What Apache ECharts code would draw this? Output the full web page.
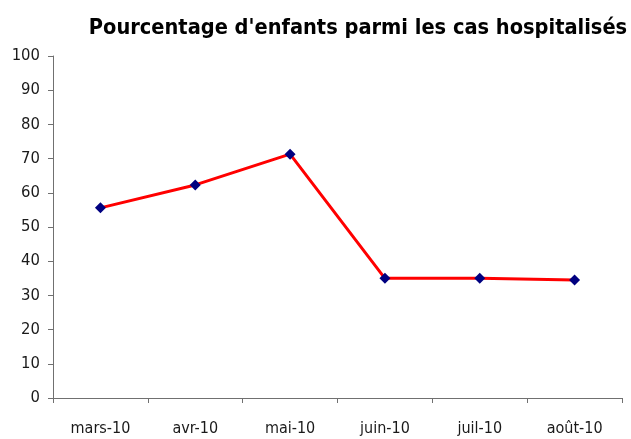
<!DOCTYPE html>
<html>
<head>
<meta charset="utf-8">
<script src="https://cdn.jsdelivr.net/npm/echarts@6/dist/echarts.min.js"></script>
<style>
  html, body { margin: 0; padding: 0; background: #fff; }
  #chart { width: 631px; height: 439px; }
</style>
</head>
<body>
<div id="chart"></div>
<script>
var months = ['mars-10', 'avr-10', 'mai-10', 'juin-10', 'juil-10', 'août-10'];
var pctEnfants = [55.6, 62.3, 71.3, 35.0, 35.0, 34.5];
var yTicks = { min: 0, max: 100, step: 10 };

var fontName = '"DejaVu Sans Condensed", sans-serif';

var chart = echarts.init(document.getElementById('chart'), null, { renderer: 'canvas' });
chart.setOption({
    animation: false,
    backgroundColor: '#fff',
    title: {
        text: "Pourcentage d'enfants parmi les cas hospitalisés",
        left: 353,
        textAlign: 'center',
        top: 12,
        textStyle: { fontFamily: fontName, fontWeight: 'bold', fontSize: 21.6, color: '#000' }
    },
    grid: { left: 53, right: 9, top: 56, bottom: 41, containLabel: false },
    xAxis: {
        type: 'category',
        data: months,
        boundaryGap: true,
        axisLine: { lineStyle: { color: '#707070', width: 1 } },
        axisTick: { show: true, length: 5, lineStyle: { color: '#707070' } },
        axisLabel: { margin: 23, fontFamily: fontName, fontSize: 16, color: '#1a1a1a' }
    },
    yAxis: {
        type: 'value',
        min: yTicks.min,
        max: yTicks.max,
        interval: yTicks.step,
        splitLine: { show: false },
        axisLine: { show: true, lineStyle: { color: '#707070', width: 1 } },
        axisTick: { show: true, length: 5, lineStyle: { color: '#707070' } },
        axisLabel: { margin: 13, fontFamily: fontName, fontSize: 16.5, color: '#1a1a1a' }
    },
    series: [{
        type: 'line',
        data: pctEnfants,
        lineStyle: { color: '#ff0000', width: 3 },
        itemStyle: { color: '#000080' },
        symbol: 'diamond',
        symbolSize: 11
    }]
});
</script>
</body>
</html>
